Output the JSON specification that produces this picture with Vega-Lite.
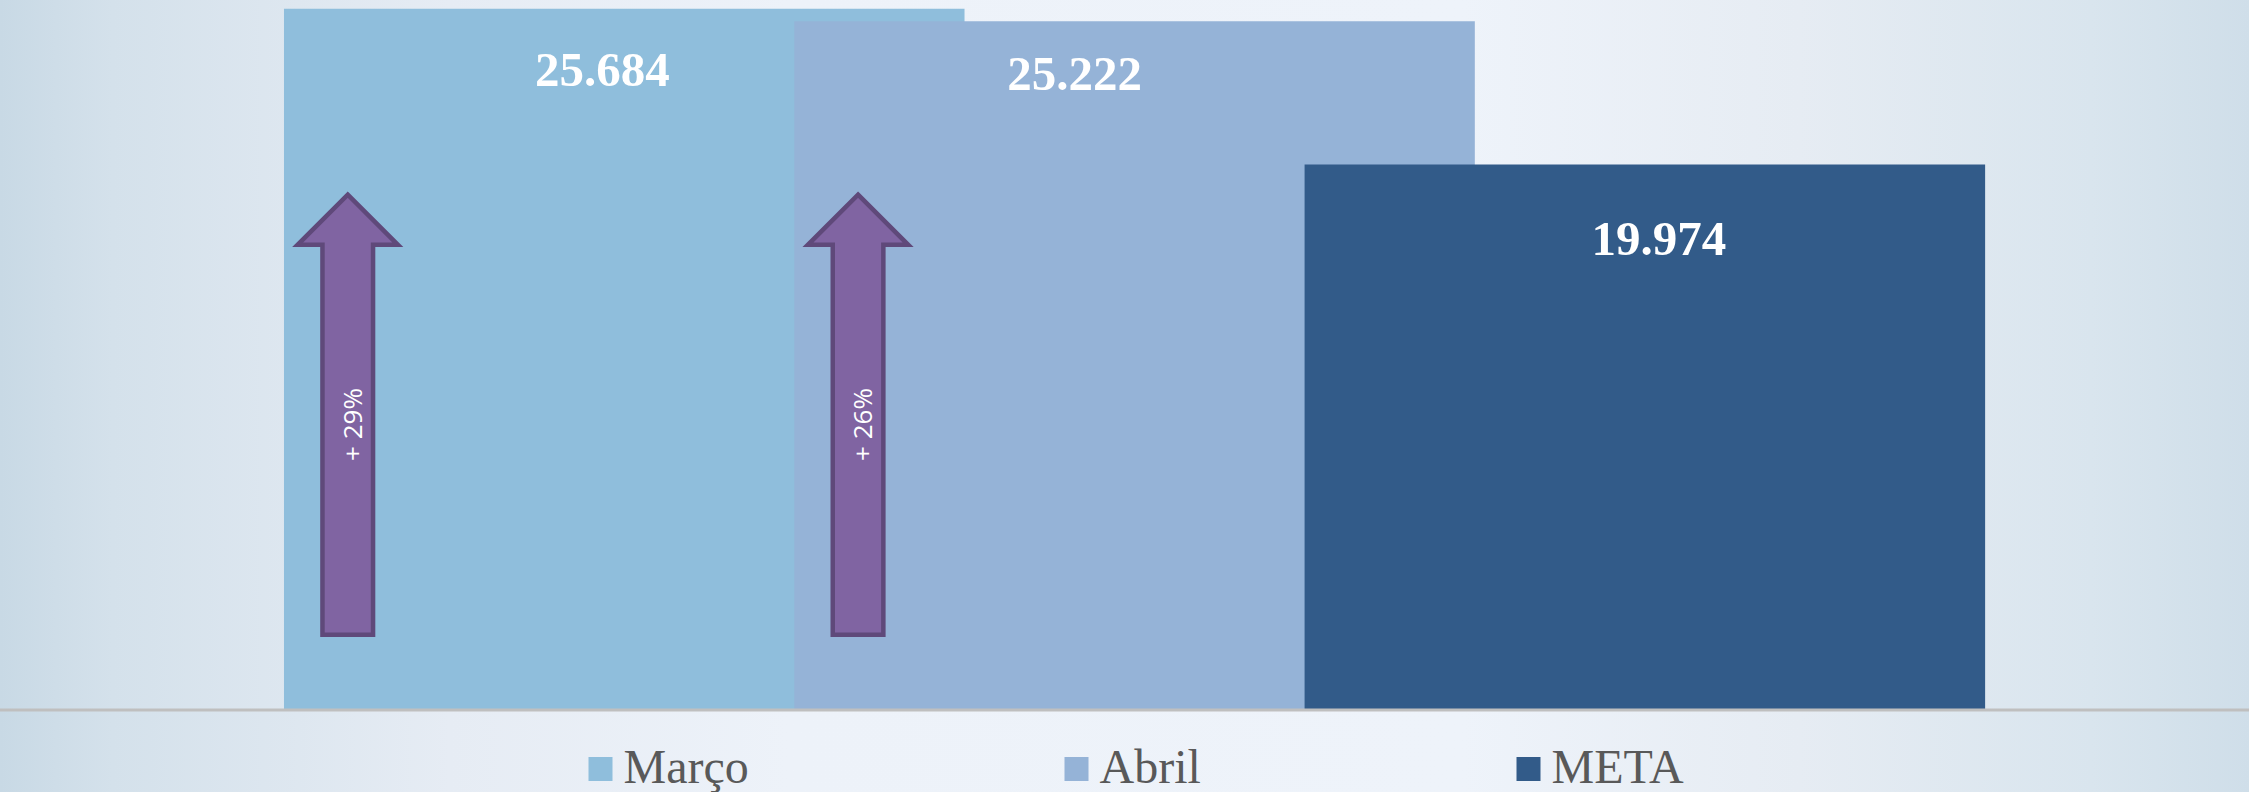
{
  "$schema": "https://vega.github.io/schema/vega-lite/v6.json",
  "width": 2249,
  "height": 792,
  "autosize": {"type": "none"},
  "padding": 0,
  "background": "#EAF0F7",
  "config": {"view": {"stroke": null}},
  "datasets": {
    "barras": [
      {"mes": "Março", "valor": 25684, "rotulo": "25.684"},
      {"mes": "Abril", "valor": 25222, "rotulo": "25.222"},
      {"mes": "META", "valor": 19974, "rotulo": "19.974"}
    ],
    "setas": [
      {"mes": "Março", "pct": "+ 29%"},
      {"mes": "Abril", "pct": "+ 26%"}
    ],
    "fundo": [{"id": 1}]
  },
  "layer": [
    {
      "data": {"name": "fundo"},
      "mark": {
        "type": "rect",
        "color": {
          "gradient": "linear", "x1": 0, "y1": 0, "x2": 1, "y2": 0,
          "stops": [
            {"offset": 0, "color": "#C8D9E5"},
            {"offset": 0.05, "color": "#D4E1EB"},
            {"offset": 0.2, "color": "#E6ECF4"},
            {"offset": 0.35, "color": "#EDF2F9"},
            {"offset": 0.65, "color": "#EEF3FA"},
            {"offset": 0.8, "color": "#E6ECF3"},
            {"offset": 0.93, "color": "#D9E5EE"},
            {"offset": 1, "color": "#CFDEE9"}
          ]
        }
      },
      "encoding": {}
    },
    {
      "data": {"name": "barras"},
      "mark": {"type": "bar", "width": {"band": 1.3336}},
      "encoding": {
        "x": {
          "field": "mes", "type": "nominal", "axis": null,
          "scale": {"domain": ["Março", "Abril", "META"], "paddingInner": 0, "paddingOuter": 0.7036, "align": 0.514}
        },
        "y": {
          "field": "valor", "type": "quantitative", "axis": null, "stack": null,
          "scale": {"domain": [-3003, 26000], "nice": false, "zero": false}
        },
        "color": {
          "field": "mes", "type": "nominal",
          "scale": {"domain": ["Março", "Abril", "META"], "range": ["#8FBEDC", "#95B3D7", "#325B89"]},
          "legend": {
            "orient": "none", "legendX": 576.5, "legendY": 745, "direction": "horizontal",
            "title": null, "symbolType": "square", "symbolSize": 576, "symbolStrokeWidth": 0,
            "symbolOpacity": 1, "labelFont": "Liberation Serif", "labelFontSize": 48,
            "labelColor": "#595959", "labelOffset": -1, "columnPadding": 303, "padding": 0, "labelLimit": 0
          }
        }
      }
    },
    {
      "data": {"name": "fundo"},
      "mark": {"type": "rule", "color": "#BFBFBF", "strokeWidth": 3},
      "encoding": {"y": {"datum": 0, "type": "quantitative"}}
    },
    {
      "data": {"name": "barras"},
      "transform": [{"filter": "datum.mes === 'Março'"}],
      "mark": {"type": "text", "font": "Liberation Serif", "fontWeight": "bold", "fontSize": 49, "color": "white", "align": "center", "baseline": "alphabetic", "dx": -22, "dy": 77},
      "encoding": {"x": {"field": "mes", "type": "nominal"}, "y": {"field": "valor", "type": "quantitative"}, "text": {"field": "rotulo"}}
    },
    {
      "data": {"name": "barras"},
      "transform": [{"filter": "datum.mes === 'Abril'"}],
      "mark": {"type": "text", "font": "Liberation Serif", "fontWeight": "bold", "fontSize": 49, "color": "white", "align": "center", "baseline": "alphabetic", "dx": -60, "dy": 69},
      "encoding": {"x": {"field": "mes", "type": "nominal"}, "y": {"field": "valor", "type": "quantitative"}, "text": {"field": "rotulo"}}
    },
    {
      "data": {"name": "barras"},
      "transform": [{"filter": "datum.mes === 'META'"}],
      "mark": {"type": "text", "font": "Liberation Serif", "fontWeight": "bold", "fontSize": 49, "color": "white", "align": "center", "baseline": "alphabetic", "dx": 14, "dy": 90},
      "encoding": {"x": {"field": "mes", "type": "nominal"}, "y": {"field": "valor", "type": "quantitative"}, "text": {"field": "rotulo"}}
    },
    {
      "data": {"name": "setas"},
      "mark": {
        "type": "point",
        "shape": "M0,-1L0.228,-0.772L0.115,-0.772L0.115,1L-0.115,1L-0.115,-0.772L-0.228,-0.772Z",
        "filled": true, "color": "#8064A2", "stroke": "#5F497A", "strokeWidth": 4.5,
        "size": 193600, "opacity": 1, "xOffset": -276.5
      },
      "encoding": {"x": {"field": "mes", "type": "nominal"}, "y": {"datum": 10814, "type": "quantitative"}}
    },
    {
      "data": {"name": "setas"},
      "mark": {"type": "text", "angle": 270, "font": "Open Sans", "fontSize": 26, "color": "white", "align": "center", "baseline": "middle", "xOffset": -270.5},
      "encoding": {"x": {"field": "mes", "type": "nominal"}, "y": {"datum": 10455, "type": "quantitative"}, "text": {"field": "pct"}}
    }
  ]
}
